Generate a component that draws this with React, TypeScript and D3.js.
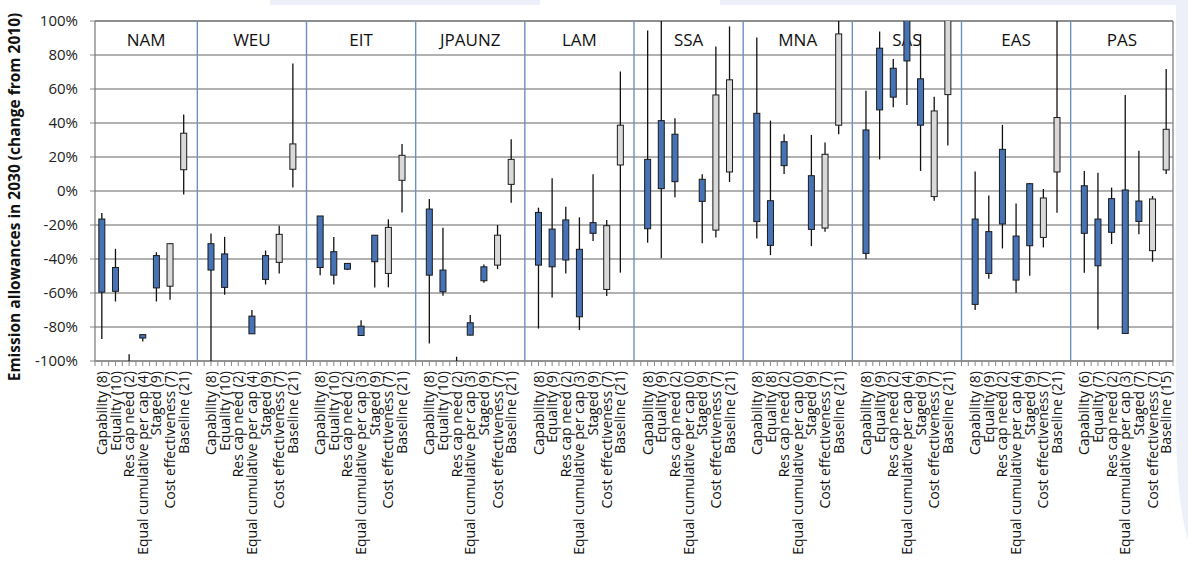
import { useEffect, useRef } from 'react'
import * as d3 from 'd3'

// regions (panels) and the allocation approaches shown in each one
const regions = ['NAM', 'WEU', 'EIT', 'JPAUNZ', 'LAM', 'SSA', 'MNA', 'SAS', 'EAS', 'PAS']
const approaches = ['Capability', 'Equality', 'Res cap need', 'Equal cumulative per cap', 'Staged', 'Cost effectiveness', 'Baseline']

// number of studies per approach, per region
const counts = [
  [8, 10, 2, 4, 9, 7, 21],
  [8, 10, 2, 4, 9, 7, 21],
  [8, 10, 2, 3, 9, 7, 21],
  [8, 10, 2, 3, 9, 7, 21],
  [8, 9, 2, 3, 9, 7, 21],
  [8, 9, 2, 0, 9, 7, 21],
  [8, 8, 2, 0, 9, 7, 21],
  [8, 9, 2, 4, 9, 7, 21],
  [8, 9, 2, 4, 9, 7, 21],
  [6, 7, 2, 3, 7, 7, 15],
]

// whisker minimum (%)
const minVals: (number | null)[][] = [
  [-87, -65, -106, -88.5, -65, -64, -2],
  [-102, -61, null, -84, -55, -48.5, 2],
  [-49.5, -55, -46.5, -85, -56.7, -56.7, -12.6],
  [-89.7, -61.6, -106, -84.8, -54, -46, -6.9],
  [-80.9, -62.6, -48.5, -81.8, -29.4, -61.8, -48],
  [-30.4, -39.6, -3.7, null, -30.8, -27.3, 5.3],
  [-27.9, -37.7, 10, null, -32.4, -24, 33.4],
  [-40, 18.6, 49.3, 50.6, 11.8, -5.7, 26.7],
  [-70, -51.6, -33.8, -59.9, -49.9, -33.2, -12.8],
  [-48.1, -81.5, -31.2, -83.8, -25.5, -41.6, 10],
]

// box bottom (%)
const boxLow: (number | null)[][] = [
  [-59.5, -59, -104, -86.5, -57, -56, 12.5],
  [-46.5, -56.7, null, -84, -52, -42, 12.8],
  [-45, -49.5, -46, -85, -41.6, -48.5, 6.3],
  [-49.5, -59.3, -104, -84.8, -52.8, -43.6, 3.9],
  [-43.6, -44.6, -40.6, -74, -24.9, -57.9, 15.3],
  [-22.2, 1.4, 5.5, null, -6.1, -23, 11.2],
  [-18, -32, 14.9, null, -22.6, -21.8, 38.7],
  [-36.7, 47.7, 55.2, 76.5, 38.7, -3.3, 56.7],
  [-66.7, -48.5, -19.4, -52.4, -32.2, -27.3, 11.2],
  [-24.9, -44, -24.3, -83.8, -17.9, -35.1, 12.4],
]

// box top (%)
const boxHigh: (number | null)[][] = [
  [-16.5, -45, -101, -84.5, -38, -31, 34],
  [-31, -37, null, -73.6, -38, -25.5, 27.7],
  [-14.7, -35.7, -42.6, -79.5, -26, -21.4, 21],
  [-10.6, -46.5, -101, -77.5, -44.6, -26, 18.6],
  [-12.6, -22.4, -17, -34.3, -18.6, -20.4, 38.7],
  [18.6, 41.4, 33.4, null, 6.9, 56.5, 65.4],
  [45.7, -5.7, 29, null, 9, 21.6, 92.4],
  [35.9, 84, 72.2, 110, 66, 47.1, 115],
  [-16.5, -23.9, 24.5, -26.5, 4.3, -4.1, 43.2],
  [3.1, -16.5, -4.5, 0.6, -5.9, -4.7, 36.3],
]

// whisker maximum (%)
const maxVals: (number | null)[][] = [
  [-13, -34, -96, -84.5, -36, -31, 45],
  [-25, -27, null, -70, -35, -20.4, 75],
  [-14.7, -27, -42.5, -76, -26, -16.7, 27.7],
  [-4.7, -21.6, -97.5, -73, -43.2, -20, 30.4],
  [-9.8, 7.5, -9.2, -15.5, 9.8, -17, 70.3],
  [94.4, 110, 42.8, null, 9.8, 85, 96.8],
  [90.3, 41.4, 33.4, null, 33, 28.5, 110],
  [58.9, 93.8, 77.7, 125, 92.2, 55.5, 140],
  [11.4, -2.7, 38.9, -7.3, 4.7, 1.2, 110],
  [11.8, 10.8, 2, 56.5, 23.7, -2.9, 71.8],
]

const yTicks = [-100, -80, -60, -40, -20, 0, 20, 40, 60, 80, 100]

export default function App() {
  const svgRef = useRef<SVGSVGElement>(null)
  const width = 1188
  const height = 580

  useEffect(() => {
    if (!svgRef.current) return
    const svg = d3.select(svgRef.current)
    svg.selectAll('*').remove()

    const left = 95
    const right = 1173
    const top = 21
    const bottom = 361
    const font = "'Open Sans', 'Noto Sans', sans-serif"

    // 7 slots per region plus an empty one between regions
    const slots: string[] = []
    regions.forEach((r, ri) => {
      approaches.forEach((_, ai) => slots.push(`${r}-${ai}`))
      if (ri < regions.length - 1) slots.push(`${r}-gap`)
    })

    const x = d3.scaleBand().domain(slots).range([left, right]).padding(0)
    const y = d3.scaleLinear().domain([-100, 100]).range([bottom, top])
    const cx = (key: string) => (x(key) || 0) + x.bandwidth() / 2

    // faint page watermark
    const bg = svg.append('g').attr('fill', '#eef0f9')
    bg.append('rect').attr('x', 270).attr('y', 0).attr('width', 270).attr('height', 5)
    bg.append('rect').attr('x', 720).attr('y', 0).attr('width', 468).attr('height', 5)
    bg.append('path').attr('d', 'M1188,0 L1176,0 L1176,420 Q1176,500 1188,540 Z')

    const g = svg.append('g')

    // gridlines
    g.selectAll('.grid')
      .data(yTicks)
      .enter().append('line')
      .attr('x1', left)
      .attr('x2', right)
      .attr('y1', d => y(d))
      .attr('y2', d => y(d))
      .attr('stroke', d => (d === 100 ? '#6a6a6a' : '#979797'))
      .attr('stroke-width', 1.4)

    // y axis ticks + labels
    g.selectAll('.ytick')
      .data(yTicks)
      .enter().append('line')
      .attr('x1', left - 5)
      .attr('x2', left)
      .attr('y1', d => y(d))
      .attr('y2', d => y(d))
      .attr('stroke', '#888')

    g.selectAll('.ylab')
      .data(yTicks)
      .enter().append('text')
      .attr('x', 78)
      .attr('y', d => y(d))
      .attr('dy', '0.36em')
      .attr('text-anchor', 'end')
      .style('font-family', font)
      .style('font-size', '15px')
      .style('fill', '#222')
      .text(d => `${d}%`)

    svg.append('text')
      .attr('transform', `translate(20,${(top + bottom) / 2 + 6}) rotate(-90)`)
      .attr('text-anchor', 'middle')
      .style('font-family', font)
      .style('font-size', '15.5px')
      .style('font-weight', 700)
      .style('fill', '#111')
      .text('Emission allowances in 2030 (change from 2010)')

    // region dividers (centre of gap slots)
    const gaps = slots.filter(s => s.endsWith('-gap'))
    g.selectAll('.divider')
      .data(gaps)
      .enter().append('line')
      .attr('x1', d => cx(d))
      .attr('x2', d => cx(d))
      .attr('y1', top)
      .attr('y2', bottom)
      .attr('stroke', '#6e8fc2')
      .attr('stroke-width', 1.4)

    // region titles
    const edges = [left, ...gaps.map(cx), right]
    g.selectAll('.region')
      .data(regions)
      .enter().append('text')
      .attr('x', (_, i) => (edges[i] + edges[i + 1]) / 2)
      .attr('y', 46)
      .attr('text-anchor', 'middle')
      .style('font-family', font)
      .style('font-size', '17px')
      .style('fill', '#111')
      .text(d => d)

    // axis frame
    g.append('line').attr('x1', left).attr('x2', left).attr('y1', top).attr('y2', bottom).attr('stroke', '#777').attr('stroke-width', 1.2)
    g.append('line').attr('x1', right).attr('x2', right).attr('y1', top).attr('y2', bottom).attr('stroke', '#777').attr('stroke-width', 1.2)
    g.append('line').attr('x1', left).attr('x2', right).attr('y1', bottom).attr('y2', bottom).attr('stroke', '#888').attr('stroke-width', 1.4)

    // x ticks at slot edges and centres
    const xTicks: number[] = []
    slots.forEach(s => {
      xTicks.push(x(s) || 0)
      xTicks.push(cx(s))
    })
    xTicks.push(right)
    g.selectAll('.xtick')
      .data(xTicks)
      .enter().append('line')
      .attr('x1', d => d)
      .attr('x2', d => d)
      .attr('y1', bottom)
      .attr('y2', bottom + 5)
      .attr('stroke', '#888')

    // boxes
    interface Item { key: string; ai: number; min: number; lo: number; hi: number; max: number }
    const items: Item[] = []
    regions.forEach((r, ri) => {
      approaches.forEach((_, ai) => {
        const mn = minVals[ri][ai]
        const lo = boxLow[ri][ai]
        const hi = boxHigh[ri][ai]
        const mx = maxVals[ri][ai]
        if (mn === null || lo === null || hi === null || mx === null) return
        items.push({ key: `${r}-${ai}`, ai, min: mn, lo, hi, max: mx })
      })
    })

    svg.append('clipPath').attr('id', 'plotClip')
      .append('rect').attr('x', left).attr('y', top).attr('width', right - left).attr('height', bottom - top)

    const marks = g.append('g').attr('clip-path', 'url(#plotClip)')

    marks.selectAll('.whisker')
      .data(items)
      .enter().append('line')
      .attr('x1', d => cx(d.key))
      .attr('x2', d => cx(d.key))
      .attr('y1', d => y(d.min))
      .attr('y2', d => y(d.max))
      .attr('stroke', '#111')
      .attr('stroke-width', 1.3)

    const bw = 6
    marks.selectAll('.box')
      .data(items)
      .enter().append('rect')
      .attr('x', d => cx(d.key) - bw / 2)
      .attr('y', d => y(d.hi))
      .attr('width', bw)
      .attr('height', d => Math.max(0, y(d.lo) - y(d.hi)))
      .attr('fill', d => (d.ai >= 5 ? '#d9d9d9' : '#4672b6'))
      .attr('stroke', '#1b1b1b')
      .attr('stroke-width', 1)

    // category labels
    const labels: { key: string; text: string }[] = []
    regions.forEach((r, ri) => {
      approaches.forEach((a, ai) => labels.push({ key: `${r}-${ai}`, text: `${a} (${counts[ri][ai]})` }))
    })
    g.selectAll('.xlab')
      .data(labels)
      .enter().append('text')
      .attr('transform', d => `translate(${cx(d.key)},${bottom + 10}) rotate(-90)`)
      .attr('dy', '0.36em')
      .attr('text-anchor', 'end')
      .style('font-family', font)
      .style('font-size', '14px')
      .style('fill', '#111')
      .text(d => d.text)
  }, [])

  return (
    <svg
      ref={svgRef}
      width={width}
      height={height}
      style={{ position: 'absolute', left: 0, top: 0, background: '#fff' }}
    />
  )
}
